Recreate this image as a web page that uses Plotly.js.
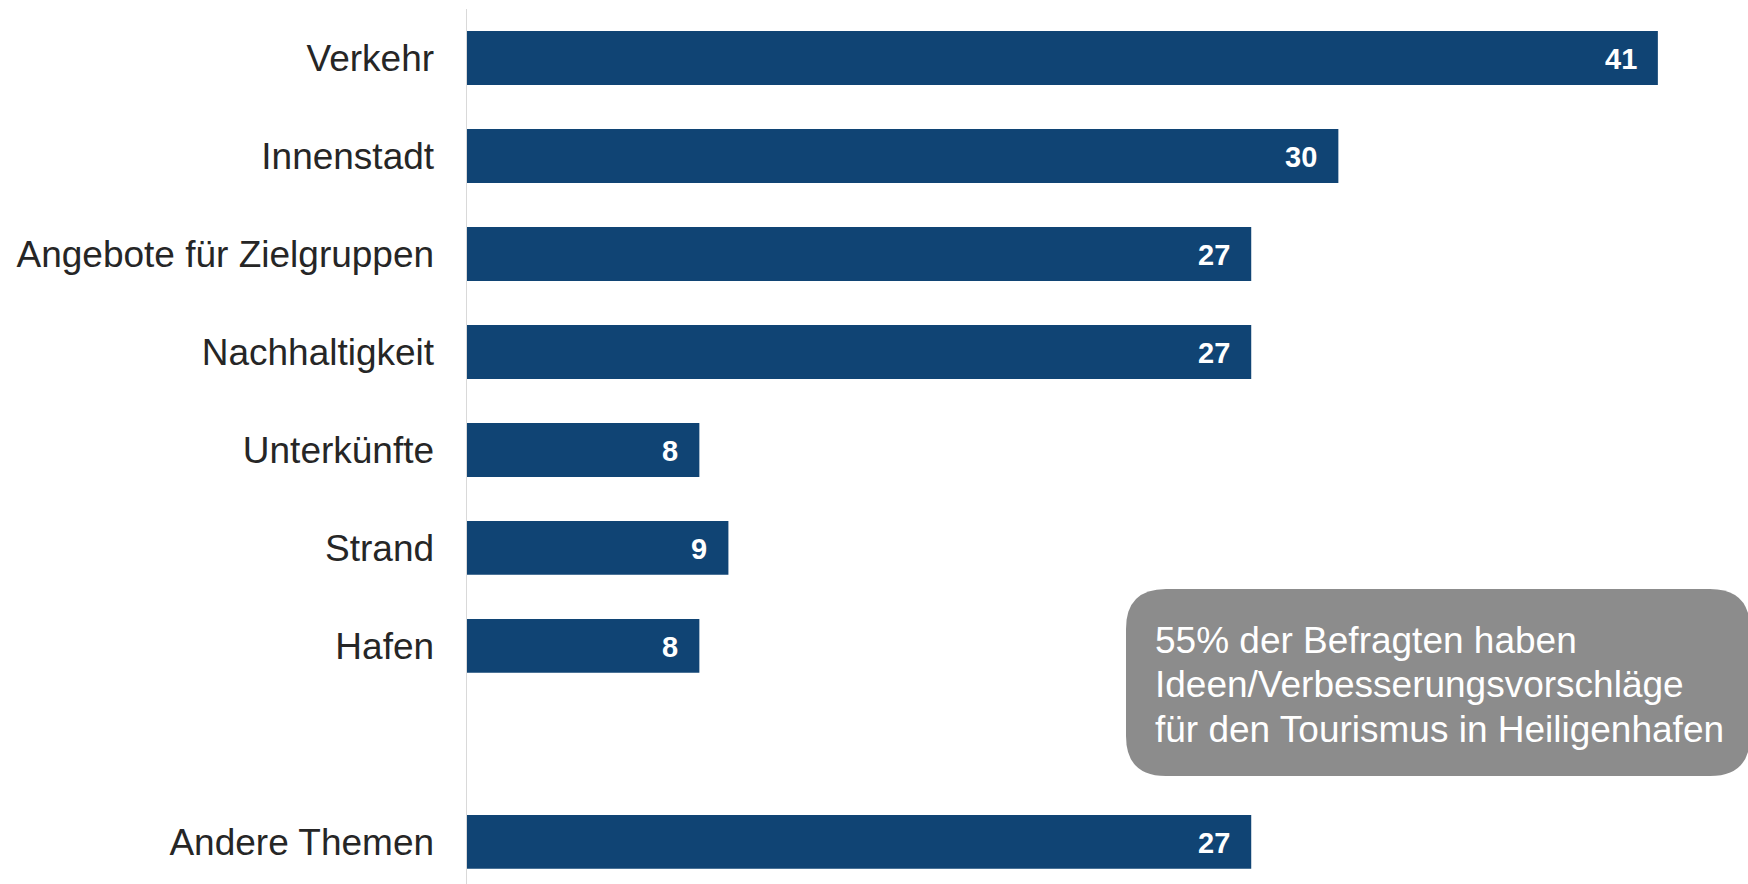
<!DOCTYPE html>
<html>
<head>
<meta charset="utf-8">
<script src="https://cdn.plot.ly/plotly-3.0.1.min.js"></script>
<style>html,body{margin:0;padding:0;background:#fff;}#chart{width:1748px;height:884px;}</style>
</head>
<body>
<div id="chart"></div>
<script>
// Data
const categories = ["Verkehr", "Innenstadt", "Angebote für Zielgruppen", "Nachhaltigkeit", "Unterkünfte", "Strand", "Hafen", "Andere Themen"];
const values = [41, 30, 27, 27, 8, 9, 8, 27];
const gapSlot = " ";           // empty row between "Hafen" and "Andere Themen"
const noteLines = ["55% der Befragten haben", "Ideen/Verbesserungsvorschläge", "für den Tourismus in Heiligenhafen"];

const W = 1748, H = 884;
const M = {l: 467, r: 3, t: 9, b: 0};
const plotW = W - M.l - M.r, plotH = H - M.t - M.b;
const barColor = "#104474";
const font = "'Liberation Sans', Arial, sans-serif";

const catOrder = categories.slice(0, 7).concat([gapSlot], categories.slice(7));

const trace = {
  type: "bar",
  orientation: "h",
  x: values,
  y: categories,
  marker: {color: barColor, line: {width: 0}},
  hoverinfo: "none"
};

const annotations = categories.map((c, i) => ({
  x: values[i], y: c, xref: "x", yref: "y",
  text: "<b>" + values[i] + "</b>",
  showarrow: false, xanchor: "right", yanchor: "middle",
  xshift: -19, yshift: -1,
  font: {family: font, size: 29, color: "#ffffff"}
}));

// note box (pixel coordinates converted to paper)
const px = v => (v - M.l) / plotW;
const py = v => 1 - (v - M.t) / plotH;
const bx0 = 1126, bx1 = 1750, by0 = 589, by1 = 776, r = 40;
const path = "M " + px(bx0 + r) + "," + py(by0) +
  " L " + px(bx1 - r) + "," + py(by0) +
  " Q " + px(bx1) + "," + py(by0) + " " + px(bx1) + "," + py(by0 + r) +
  " L " + px(bx1) + "," + py(by1 - r) +
  " Q " + px(bx1) + "," + py(by1) + " " + px(bx1 - r) + "," + py(by1) +
  " L " + px(bx0 + r) + "," + py(by1) +
  " Q " + px(bx0) + "," + py(by1) + " " + px(bx0) + "," + py(by1 - r) +
  " L " + px(bx0) + "," + py(by0 + r) +
  " Q " + px(bx0) + "," + py(by0) + " " + px(bx0 + r) + "," + py(by0) + " Z";

const lineY = [640, 684, 729];
noteLines.forEach((t, i) => annotations.push({
  xref: "paper", yref: "paper", x: px(1153), y: py(lineY[i]),
  xanchor: "left", yanchor: "middle", showarrow: false,
  text: t, font: {family: font, size: 37, color: "#ffffff"}
}));

const layout = {
  width: W, height: H,
  margin: M,
  paper_bgcolor: "#ffffff", plot_bgcolor: "#ffffff",
  showlegend: false,
  bargap: 0.45,
  xaxis: {range: [0, 44], showgrid: false, zeroline: false, showticklabels: false, showline: false, fixedrange: true},
  yaxis: {
    type: "category", categoryorder: "array", categoryarray: catOrder,
    range: [8.43, -0.5], autorange: false,
    showgrid: false, zeroline: false,
    showline: true, linecolor: "#d9d9d9", linewidth: 1.5,
    ticks: "", ticklabelstandoff: 24,
    tickfont: {family: font, size: 37, color: "#262626"}
  },
  shapes: [{type: "path", xref: "paper", yref: "paper", path: path, fillcolor: "#8c8c8c", line: {width: 0}, layer: "above"}],
  annotations: annotations
};

Plotly.newPlot("chart", [trace], layout, {staticPlot: true, displayModeBar: false});
</script>
</body>
</html>
